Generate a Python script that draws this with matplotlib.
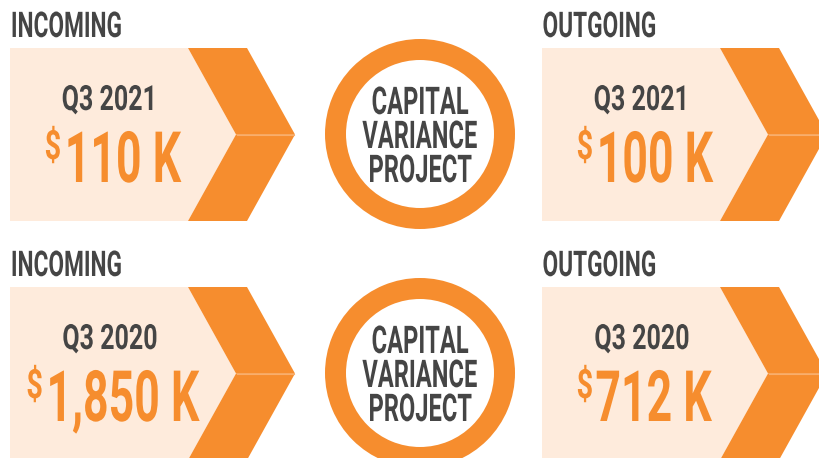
import matplotlib
matplotlib.use("Agg")
import matplotlib.pyplot as plt
from matplotlib.patches import Polygon, Wedge
from matplotlib.patheffects import AbstractPathEffect
from matplotlib.transforms import Affine2D

# data
years = ['Q3 2021', 'Q3 2020']
incoming_k = [110, 1850]
outgoing_k = [100, 712]
flow_labels = ['INCOMING', 'OUTGOING']
center_words = ['CAPITAL', 'VARIANCE', 'PROJECT']

ORANGE = '#F68D2E'
PEACH = '#FEEBDC'
SEAM = '#F9AE6C'
GRAY = '#454545'
FONT = ['Roboto', 'DejaVu Sans']


class Squeeze(AbstractPathEffect):
    # narrow the glyphs horizontally (condensed look)
    def __init__(self, sx, anchor='center'):
        super().__init__()
        self.sx = sx
        self.anchor = anchor

    def draw_path(self, renderer, gc, tpath, affine, rgbFace=None):
        ext = tpath.get_extents(affine)
        cx = {'left': ext.x0, 'center': (ext.x0 + ext.x1) / 2, 'right': ext.x1}[self.anchor]
        sq = affine + Affine2D().translate(-cx, 0).scale(self.sx, 1).translate(cx, 0)
        renderer.draw_path(gc, tpath, sq, rgbFace)


fig = plt.figure(figsize=(8.2, 4.58), dpi=100)
ax = fig.add_axes([0, 0, 1, 1])
ax.set_xlim(0, 820)
ax.set_ylim(458, 0)
ax.axis('off')

SX = 0.63
SX_D = 0.72


def txt(x, y, s, size, color, anchor='center', sx=SX, ha='center'):
    return ax.text(x, y, s, fontsize=size, color=color, family=FONT, weight='bold',
                   ha=ha, va='baseline', path_effects=[Squeeze(sx, anchor)])


def box(x0, y0, h=173, body=178, depth=48, cw=59):
    ym = y0 + h / 2
    y1 = y0 + h
    xb = x0 + body
    ax.add_patch(Polygon([(x0, y0), (xb, y0), (xb + depth, ym), (xb, y1), (x0, y1)],
                         closed=True, fc=PEACH, ec='none'))
    ax.add_patch(Polygon([(xb, y0), (xb + cw, y0), (xb + cw + depth, ym), (xb + depth, ym)],
                         closed=True, fc=ORANGE, ec='none'))
    ax.add_patch(Polygon([(xb + depth, ym), (xb + cw + depth, ym), (xb + cw, y1), (xb, y1)],
                         closed=True, fc=ORANGE, ec='none'))
    ax.plot([xb + depth + 1, xb + cw + depth - 1], [ym, ym], color=SEAM, lw=0.8)


rows_top = [48, 287]
amounts = []
for r, y0 in enumerate(rows_top):
    for c, (x0, vals) in enumerate([(10, incoming_k), (542, outgoing_k)]):
        box(x0, y0)
        txt(x0, y0 - 11, flow_labels[c], 25.5, GRAY, anchor='left', sx=0.64, ha='left')
        txt(x0 + 100, y0 + 62, years[r], 25, GRAY, sx=0.72)
        d = txt(0, 0, '$', 29, ORANGE, anchor='right', sx=SX_D, ha='right')
        n = txt(0, 0, f'{vals[r]:,} K', 51, ORANGE, anchor='left', ha='left')
        amounts.append((x0 + 102, y0 + 134, d, n))

    # ring in the middle
    cy = y0 + 86
    ax.add_patch(Wedge((420, cy), 95, 0, 360, width=21, fc=ORANGE, ec='none'))
    for k, w in enumerate(center_words):
        txt(420, cy - 20 + 34 * k, w, 27.5, GRAY, sx=0.62)

# place "$" + number as a centred group
fig.canvas.draw()
rend = fig.canvas.get_renderer()
gap = 1
for cx, base, d, n in amounts:
    wd = d.get_window_extent(rend).width * SX_D
    wn = n.get_window_extent(rend).width * SX
    xd = cx - (wd + gap + wn) / 2 + wd
    d.set_position((xd, base - 23))
    n.set_position((xd + gap, base))

fig.savefig('out.png', dpi=100, facecolor='white')
